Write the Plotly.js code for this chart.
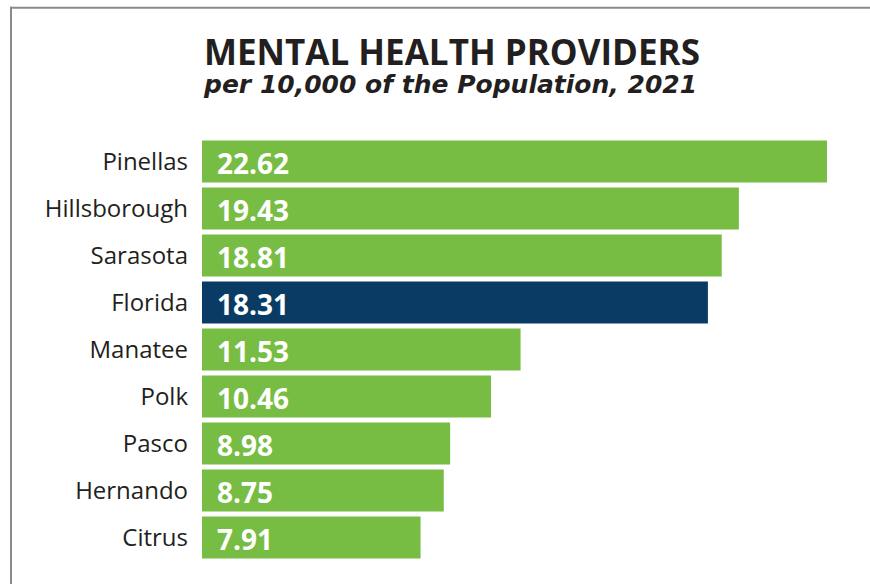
<!DOCTYPE html>
<html>
<head>
<meta charset="utf-8">
<script src="https://cdn.plot.ly/plotly-3.0.1.min.js"></script>
<style>
html,body{margin:0;padding:0;background:#fff;}
#chart{width:870px;height:584px;}
</style>
</head>
<body>
<div id="chart"></div>
<script>
const counties = ["Pinellas","Hillsborough","Sarasota","Florida","Manatee","Polk","Pasco","Hernando","Citrus"];
const providers = [22.62,19.43,18.81,18.31,11.53,10.46,8.98,8.75,7.91];
const valueLabels = ["22.62","19.43","18.81","18.31","11.53","10.46","8.98","8.75","7.91"];
const titleText = "MENTAL HEALTH PROVIDERS";
const subtitleText = "per 10,000 of the Population, 2021";

const GREEN = "#78BD43", NAVY = "#0A3B64";
const W = 870, H = 584;
const mL = 202, mR = 23, mT = 137.5, mB = 22.5;
const pw = W - mL - mR, ph = H - mT - mB;
const px2x = p => (p - mL) / pw;
const py2y = p => (H - mB - p) / ph;

const colors = counties.map(c => c === "Florida" ? NAVY : GREEN);
const font = "'Open Sans', 'Noto Sans', sans-serif";

const annotations = counties.map((c, i) => ({
  x: 0, y: c, xref: "x", yref: "y",
  text: "<b>" + valueLabels[i] + "</b>",
  showarrow: false, xanchor: "left", yanchor: "middle", xshift: 13, yshift: -1,
  font: {family: font, size: 28, color: "#ffffff"}
}));
annotations.push({
  xref: "paper", yref: "paper", x: px2x(201), y: py2y(25), xanchor: "left", yanchor: "top",
  align: "left",
  text: "<span style=\"font-size:35px\"><b>" + titleText + "</b></span><br>" +
        "<span style=\"font-family:DejaVu Sans;font-size:25px\"><b><i>" + subtitleText + "</i></b></span>",
  showarrow: false,
  font: {family: font, size: 21.5, color: "#231F20"}
});

const shapes = [
  {type: "line", xref: "paper", yref: "paper", x0: px2x(11), x1: px2x(11), y0: py2y(6), y1: py2y(H + 2),
   line: {color: "#8a8a8a", width: 2}},
  {type: "line", xref: "paper", yref: "paper", x0: px2x(10), x1: px2x(W + 2), y0: py2y(7), y1: py2y(7),
   line: {color: "#8a8a8a", width: 2}}
];

Plotly.newPlot("chart", [{
  type: "bar", orientation: "h",
  x: providers, y: counties,
  marker: {color: colors, line: {width: 0}},
  hoverinfo: "none"
}], {
  width: W, height: H,
  margin: {l: mL, r: mR, t: mT, b: mB, pad: 0},
  paper_bgcolor: "#ffffff", plot_bgcolor: "#ffffff",
  bargap: 0.108,
  showlegend: false,
  xaxis: {range: [0, 22.62 * pw / 625], visible: false, fixedrange: true},
  yaxis: {autorange: "reversed", showgrid: false, zeroline: false, showline: false,
          ticks: "", ticklabelstandoff: 13,
          tickfont: {family: font, size: 24, color: "#231F20"}, fixedrange: true},
  annotations: annotations,
  shapes: shapes
}, {displayModeBar: false, staticPlot: true});
</script>
</body>
</html>
